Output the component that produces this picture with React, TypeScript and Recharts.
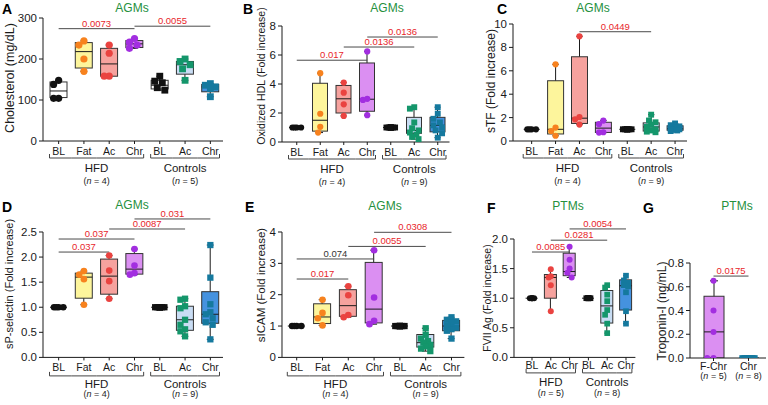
import React from "react";
import { ComposedChart, Bar, Scatter, XAxis, YAxis, ReferenceLine } from "recharts";

const FONT = '"Liberation Sans", Arial, Helvetica, sans-serif';
const RED = "#e8262b";
const GREEN = "#25903d";
const INK = "#1a1a1a";

// categories
const fullKeys = ["hBL", "hFat", "hAc", "hChr", "cBL", "cAc", "cChr"];
const fullLabels = ["BL", "Fat", "Ac", "Chr", "BL", "Ac", "Chr"];
const ptmKeys = ["hBL", "hAc", "hChr", "cBL", "cAc", "cChr"];
const ptmLabels = ["BL", "Ac", "Chr", "BL", "Ac", "Chr"];
const gKeys = ["fChr", "gChr"];
const gLabels = ["F-Chr", "Chr"];
const gN = [5, 8];

// groups: [name, n, number of categories]
const groupsA = [["HFD", 4, 4], ["Controls", 5, 3]];
const groupsAgm = [["HFD", 4, 4], ["Controls", 9, 3]];
const groupsF = [["HFD", 5, 3], ["Controls", 8, 3]];

const ones = (n: number) => Array(n).fill(1);
const zeros = (n: number) => Array(n).fill(0);

// A: cholesterol (mg/dL); boxes are [min, q1, median, q3, max]
const aPoints = [
  [148, 138, 104, 104],
  [244, 234, 200, 170],
  [234, 214, 158, 158],
  [250, 241, 234, 226],
  [158, 146, 142, 130, 124],
  [200, 194, 186, 176, 148],
  [140, 136, 132, 128, 108],
];
const aBoxes = [
  [104, 106, 122, 144, 148],
  [170, 178, 218, 240, 244],
  [158, 158, 188, 226, 234],
  [226, 228, 237, 245, 250],
  [124, 127, 136, 148, 158],
  [148, 163, 186, 194, 200],
  [108, 120, 132, 138, 140],
];
const aSig = [
  { from: "hBL", to: "hChr", y: 274, p: "0.0073" },
  { from: "hChr", to: "cChr", y: 280, p: "0.0055" },
];

// B: oxidized HDL
const bPoints = [
  ones(4),
  [4.75, 1.95, 1.05, 0.65],
  [4.1, 3.4, 2.6, 1.8],
  [6.25, 2.98, 2.9, 1.85],
  ones(9),
  [2.4, 2.3, 1.35, 0.95, 0.8, 0.65, 0.5, 0.35, 0.2],
  [2.4, 1.95, 1.6, 1.35, 1.15, 1.0, 0.8, 0.6, 0.3],
];
const bBoxes = [
  [1, 1, 1, 1, 1],
  [0.65, 0.75, 1.5, 4.05, 4.75],
  [1.8, 2.0, 2.98, 3.9, 4.1],
  [1.85, 2.12, 2.95, 5.45, 6.25],
  [1, 1, 1, 1, 1],
  [0.2, 0.6, 0.8, 1.7, 2.4],
  [0.3, 0.7, 1.15, 1.7, 2.4],
];
const bSig = [
  { from: "hBL", to: "hChr", y: 5.64, p: "0.017" },
  { from: "hAc", to: "cAc", y: 6.55, p: "0.0136" },
  { from: "hChr", to: "cChr", y: 7.24, p: "0.0136" },
];

// C: sTF
const cPoints = [
  ones(4),
  [6.55, 1.15, 0.85, 0.45],
  [8.95, 2.05, 1.85, 1.4],
  [1.75, 1.45, 0.75, 0.72],
  ones(9),
  [2.25, 1.75, 1.6, 1.4, 1.2, 1.0, 0.9, 0.8, 0.75],
  [1.5, 1.35, 1.25, 1.15, 1.05, 1.0, 0.95, 0.9, 0.85],
];
const cBoxes = [
  [1, 1, 1, 1, 1],
  [0.45, 0.6, 1.0, 5.15, 6.55],
  [1.4, 1.5, 1.95, 7.2, 8.95],
  [0.72, 0.73, 1.1, 1.6, 1.75],
  [1, 1, 1, 1, 1],
  [0.75, 0.85, 1.2, 1.55, 2.25],
  [0.85, 0.92, 1.05, 1.3, 1.5],
];
const cSig = [{ from: "hAc", to: "cAc", y: 9.34, p: "0.0449" }];

// D: sP-selectin
const dPoints = [
  ones(4),
  [1.72, 1.65, 1.56, 1.05],
  [2.03, 1.73, 1.52, 1.17],
  [2.16, 1.83, 1.68, 1.65],
  ones(9),
  [1.17, 1.15, 1.02, 0.98, 0.75, 0.65, 0.56, 0.52, 0.42],
  [2.24, 1.59, 1.06, 0.9, 0.86, 0.78, 0.7, 0.65, 0.36],
];
const dBoxes = [
  [1, 1, 1, 1, 1],
  [1.05, 1.18, 1.6, 1.68, 1.72],
  [1.17, 1.26, 1.62, 1.96, 2.03],
  [1.65, 1.66, 1.76, 2.07, 2.16],
  [1, 1, 1, 1, 1],
  [0.42, 0.54, 0.75, 1.02, 1.17],
  [0.36, 0.68, 0.86, 1.31, 2.24],
];
const dSig = [
  { from: "hBL", to: "hAc", y: 2.1, p: "0.037" },
  { from: "hBL", to: "hChr", y: 2.36, p: "0.037" },
  { from: "hAc", to: "cAc", y: 2.56, p: "0.0087" },
  { from: "hChr", to: "cChr", y: 2.76, p: "0.031" },
];

// E: sICAM
const ePoints = [
  ones(4),
  [1.84, 1.42, 1.25, 1.02],
  [2.27, 1.98, 1.35, 1.28],
  [3.42, 1.91, 1.17, 1.06],
  ones(9),
  [0.93, 0.72, 0.6, 0.52, 0.47, 0.4, 0.35, 0.28, 0.2],
  [1.28, 1.2, 1.15, 1.1, 1.0, 0.95, 0.9, 0.85, 0.6],
];
const eBoxes = [
  [1, 1, 1, 1, 1],
  [1.02, 1.08, 1.29, 1.71, 1.84],
  [1.28, 1.31, 1.65, 2.16, 2.27],
  [1.06, 1.1, 1.54, 3.03, 3.42],
  [1, 1, 1, 1, 1],
  [0.2, 0.33, 0.47, 0.73, 0.93],
  [0.6, 0.85, 1.0, 1.18, 1.28],
];
const eSig = [
  { from: "hBL", to: "hAc", y: 2.5, p: "0.017" },
  { from: "hBL", to: "hChr", y: 3.14, p: "0.074" },
  { from: "hAc", to: "cAc", y: 3.54, p: "0.0055" },
  { from: "hChr", to: "cChr", y: 3.99, p: "0.0308" },
];

// F: FVII Ag (PTMs)
const fPoints = [
  ones(5),
  [1.49, 1.37, 1.35, 1.22, 0.78],
  [1.87, 1.65, 1.5, 1.43, 1.35],
  ones(8),
  [1.22, 1.18, 1.06, 0.95, 0.8, 0.72, 0.57, 0.41],
  [1.38, 1.3, 1.26, 1.22, 1.2, 1.1, 0.78, 0.57],
];
const fBoxes = [
  [1, 1, 1, 1, 1],
  [0.78, 1.0, 1.35, 1.4, 1.49],
  [1.35, 1.38, 1.45, 1.76, 1.87],
  [1, 1, 1, 1, 1],
  [0.41, 0.58, 0.87, 1.13, 1.22],
  [0.57, 0.8, 1.21, 1.31, 1.38],
];
const fSig = [
  { from: "hBL", to: "hChr", y: 1.78, p: "0.0085" },
  { from: "hAc", to: "cAc", y: 1.98, p: "0.0281" },
  { from: "hChr", to: "cChr", y: 2.17, p: "0.0054" },
];

// G: troponin-I (PTMs)
const gPoints = [[0.65, 0.4, 0.22, 0, 0], zeros(8)];
const gBoxes = [
  [0, 0, 0.22, 0.52, 0.65],
  [0, 0, 0, 0, 0],
];
const gSig = [{ from: "fChr", to: "gChr", y: 0.69, p: "0.0175" }];

const catStyle: Record<string, { color: string; fill: string; square?: boolean }> = {
  hBL: { color: "#111", fill: "#fff" },
  hFat: { color: "#f7821e", fill: "#fdf59c" },
  hAc: { color: "#ea4340", fill: "#f6a29e" },
  hChr: { color: "#a22ee0", fill: "#db8ff2" },
  cBL: { color: "#111", fill: "#fff", square: true },
  cAc: { color: "#14966b", fill: "#c9ddf4", square: true },
  cChr: { color: "#15799e", fill: "#4592df", square: true },
  fChr: { color: "#a22ee0", fill: "#db8ff2" },
  gChr: { color: "#15799e", fill: "#4592df", square: true },
};

// deterministic dot spreading so overlapping points sit side by side
function swarm(vals: number[], ppu: number, r: number, maxOff: number) {
  const order = vals.map((_, i) => i).sort((a, b) => vals[b] - vals[a]);
  const step = r * 0.7;
  const cands = [0];
  for (let k = 1; k * step <= maxOff + 0.01; k++) cands.push(-k * step, k * step);
  const placed: [number, number][] = [];
  const out = vals.map(() => 0);
  for (const i of order) {
    const y = vals[i] * ppu;
    let best = 0;
    let bestD = -1;
    for (const c of cands) {
      let d = Infinity;
      for (const [px, py] of placed) d = Math.min(d, Math.hypot(c - px, y - py));
      if (d >= 2 * r * 0.95) {
        best = c;
        break;
      }
      if (d > bestD) {
        bestD = d;
        best = c;
      }
    }
    placed.push([best, y]);
    out[i] = best;
  }
  return out;
}

interface Layout {
  left: number;
  top: number;
  right: number;
  bottom: number;
  pad: number;
  max: number;
  ticks: number[];
  decimals: number;
  boxW: number;
  r: number;
  rows: { lab: number; br: number; grp: number; n: number };
}

const topRows = { lab: 9.5, br: 17, grp: 27, n: 39.5 };
const botRows = { lab: 10.5, br: 18.5, grp: 26.5, n: 37 };

const layA: Layout = { left: 43, top: 18, right: 223, bottom: 141, pad: 3, max: 300, ticks: [0, 100, 200, 300], decimals: 0, boxW: 17, r: 3.6, rows: topRows };
const layB: Layout = { left: 282, top: 25.7, right: 449.5, bottom: 141.7, pad: 3, max: 8, ticks: [0, 2, 4, 6, 8], decimals: 0, boxW: 15, r: 3.1, rows: topRows };
const layC: Layout = { left: 513, top: 24, right: 687, bottom: 141, pad: 6.7, max: 10, ticks: [0, 2, 4, 6, 8, 10], decimals: 0, boxW: 16, r: 3.1, rows: topRows };
const layD: Layout = { left: 43, top: 232.3, right: 223, bottom: 357.7, pad: 3, max: 2.5, ticks: [0, 0.5, 1, 1.5, 2, 2.5], decimals: 1, boxW: 17, r: 3.3, rows: botRows };
const layE: Layout = { left: 282, top: 232.3, right: 464.4, bottom: 357.7, pad: 1.8, max: 4, ticks: [0, 1, 2, 3, 4], decimals: 0, boxW: 17, r: 3.3, rows: botRows };
const layF: Layout = { left: 514, top: 239.3, right: 635.4, bottom: 357.7, pad: 8.6, max: 2, ticks: [0, 0.5, 1, 1.5, 2], decimals: 1, boxW: 12, r: 3, rows: { lab: 8.5, br: 15.5, grp: 24.5, n: 35.5 } };
const layG: Layout = { left: 690, top: 262.7, right: 766, bottom: 357.7, pad: 6, max: 0.8, ticks: [0, 0.2, 0.4, 0.6, 0.8], decimals: 1, boxW: 20, r: 3, rows: { lab: 8, br: 0, grp: 0, n: 18 } };

const YW = 40;
const MT = 30;
const MR = 4;
const XH = 46;

function BoxShape(props: any) {
  const { x, y, width, height, payload } = props;
  const box = payload && payload.box;
  if (!box || x == null || y == null) return null;
  const [mn, q1, md, q3, mx] = box;
  const hh = height || 0;
  const top = Math.min(y, y + hh);
  const h = Math.abs(hh);
  const pix = (v: number) => (mx === mn ? top : top + ((mx - v) / (mx - mn)) * h);
  const cx = x + width / 2;
  const cap = width * 0.2;
  const st = catStyle[payload.cat];
  return (
    <g>
      <line x1={cx} x2={cx} y1={pix(mx)} y2={pix(mn)} stroke={INK} strokeWidth={1} />
      <line x1={cx - cap} x2={cx + cap} y1={pix(mx)} y2={pix(mx)} stroke={INK} strokeWidth={1} />
      <line x1={cx - cap} x2={cx + cap} y1={pix(mn)} y2={pix(mn)} stroke={INK} strokeWidth={1} />
      <rect x={x} y={pix(q3)} width={width} height={Math.max(0, pix(q1) - pix(q3))} fill={st.fill} stroke="#333" strokeWidth={1} />
      <line x1={x} x2={x + width} y1={pix(md)} y2={pix(md)} stroke={INK} strokeWidth={1} />
    </g>
  );
}

function NLabel({ x, y, n, size }: { x: number; y: number; n: number; size: number }) {
  return (
    <text x={x} y={y} textAnchor="middle" dominantBaseline="central" fontSize={size} fill={INK}>
      (<tspan fontStyle="italic">n</tspan>{` = ${n})`}
    </text>
  );
}

interface PanelProps {
  keys: string[];
  labels: string[];
  groups?: (string | number)[][];
  nUnder?: number[];
  boxes: number[][];
  points: number[][];
  sig: { from: string; to: string; y: number; p: string }[];
  L: Layout;
}

const boxRange = (d: any) => (d && d.box ? [d.box[0], d.box[4]] : null);

function Panel({ keys, labels, groups, nUnder, boxes, points, sig, L }: PanelProps) {
  const plotW = L.right - L.left;
  const plotH = L.bottom - L.top;
  const band = (plotW - L.pad) / keys.length;
  const ppu = plotH / L.max;
  const data = keys.map((k, i) => ({ cat: k, box: boxes[i] }));
  const pts = keys.flatMap((k, i) => {
    const offs = swarm(points[i], ppu, L.r, L.boxW * 0.32);
    return points[i].map((v, j) => ({ cat: k, v, dx: offs[j] }));
  });

  const renderTick = (p: any) => {
    const { x, y, payload } = p;
    const i = keys.indexOf(payload && payload.value);
    if (i < 0) return <g />;
    const axisY = y - 3;
    const parts: React.ReactNode[] = [];
    parts.push(
      <text key="l" x={x} y={axisY + L.rows.lab} textAnchor="middle" dominantBaseline="central" fontSize={10.5} fill={INK}>
        {labels[i]}
      </text>
    );
    if (nUnder) {
      parts.push(<NLabel key="n" x={x} y={axisY + L.rows.n} n={nUnder[i]} size={9} />);
    }
    if (groups) {
      let start = 0;
      for (const g of groups) {
        const size = g[2] as number;
        if (i >= start && i < start + size) {
          const j = i - start;
          const by = axisY + L.rows.br;
          const x1 = x - band / 2 + (j === 0 ? 3.5 : 0);
          const x2 = x + band / 2 - (j === size - 1 ? 3.5 : 0);
          parts.push(<line key="b" x1={x1} x2={x2} y1={by} y2={by} stroke="#444" strokeWidth={1} />);
          if (j === 0) parts.push(<line key="c0" x1={x1} x2={x1} y1={by} y2={by - 4} stroke="#444" strokeWidth={1} />);
          if (j === size - 1) parts.push(<line key="c1" x1={x2} x2={x2} y1={by} y2={by - 4} stroke="#444" strokeWidth={1} />);
          const mid = size % 2 === 1 ? (size - 1) / 2 : size / 2 - 1;
          if (j === mid) {
            const gx = size % 2 === 1 ? x : x + band / 2;
            parts.push(
              <text key="g" x={gx} y={axisY + L.rows.grp} textAnchor="middle" dominantBaseline="central" fontSize={11.5} fill={INK}>
                {g[0]}
              </text>
            );
            parts.push(<NLabel key="gn" x={gx} y={axisY + L.rows.n} n={g[1] as number} size={9} />);
          }
        }
        start += size;
      }
    }
    return <g>{parts}</g>;
  };

  const Dot = (p: any) => {
    const { cx, cy, payload } = p;
    if (cx == null || cy == null || !payload || !catStyle[payload.cat]) return <g />;
    const st = catStyle[payload.cat];
    const px = cx + (payload.dx || 0);
    if (st.square) {
      const s = L.r * 1.9;
      return <rect x={px - s / 2} y={cy - s / 2} width={s} height={s} fill={st.color} />;
    }
    return <circle cx={px} cy={cy} r={L.r} fill={st.color} />;
  };

  return (
    <div style={{ position: "absolute", left: L.left - YW, top: L.top - MT }}>
      <ComposedChart
        width={plotW + YW + MR}
        height={plotH + MT + XH}
        data={data}
        margin={{ top: MT, right: MR, bottom: 0, left: 0 }}
      >
        <XAxis
          dataKey="cat"
          type="category"
          allowDuplicatedCategory={false}
          padding={{ left: L.pad, right: 0 }}
          height={XH}
          interval={0}
          tickSize={3}
          tickMargin={0}
          axisLine={{ stroke: INK }}
          tickLine={{ stroke: INK }}
          tick={renderTick}
        />
        <YAxis
          type="number"
          domain={[0, L.max]}
          ticks={L.ticks}
          interval={0}
          width={YW}
          tickSize={4}
          tickMargin={2}
          allowDataOverflow
          axisLine={{ stroke: INK }}
          tickLine={{ stroke: INK }}
          tick={{ fontSize: 11.5, fill: INK }}
          tickFormatter={(v: number) => Number(v).toFixed(L.decimals)}
        />
        <Bar
          dataKey={boxRange}
          barSize={L.boxW}
          shape={(p: any) => <BoxShape {...p} />}
          isAnimationActive={false}
        />
        {sig.map((s, k) => (
          <ReferenceLine
            key={k}
            segment={[
              { x: s.from, y: s.y },
              { x: s.to, y: s.y },
            ]}
            stroke="#4a4a4a"
            strokeWidth={1}
            ifOverflow="visible"
            label={{
              value: s.p,
              position: "top",
              offset: 2,
              fontSize: 9.5,
              fill: parseFloat(s.p) < 0.05 ? RED : "#333",
            }}
          />
        ))}
        <Scatter data={pts} dataKey="v" shape={Dot} isAnimationActive={false} />
      </ComposedChart>
    </div>
  );
}

const panelLetters = [
  ["A", 2, 14],
  ["B", 243, 14],
  ["C", 497, 14],
  ["D", 2, 212],
  ["E", 245, 212],
  ["F", 487, 213],
  ["G", 643, 213],
];
const panelTitles = [
  ["AGMs", 132, 12],
  ["AGMs", 387, 12],
  ["AGMs", 593, 12],
  ["AGMs", 132, 209],
  ["AGMs", 385, 210],
  ["PTMs", 568, 210],
  ["PTMs", 737, 210],
];
const axisTitles = [
  ["Cholesterol (mg/dL)", 10, 78, 12.5],
  ["Oxidized HDL (Fold increase)", 261, 76, 10.5],
  ["sTF (Fold increase)", 491, 81, 12],
  ["sP-selectin (Fold increase)", 9, 284, 11],
  ["sICAM (Fold increase)", 261, 285, 11.5],
  ["FVII Ag (Fold increase)", 487, 298, 10.5],
  ["Troponin-I (ng/mL)", 662, 311, 12],
];

export default function App() {
  return (
    <div
      style={{
        position: "absolute",
        left: 0,
        top: 0,
        width: 768,
        height: 405,
        background: "#fff",
        overflow: "hidden",
        fontFamily: FONT,
      }}
    >
      <Panel keys={fullKeys} labels={fullLabels} groups={groupsA} boxes={aBoxes} points={aPoints} sig={aSig} L={layA} />
      <Panel keys={fullKeys} labels={fullLabels} groups={groupsAgm} boxes={bBoxes} points={bPoints} sig={bSig} L={layB} />
      <Panel keys={fullKeys} labels={fullLabels} groups={groupsAgm} boxes={cBoxes} points={cPoints} sig={cSig} L={layC} />
      <Panel keys={fullKeys} labels={fullLabels} groups={groupsAgm} boxes={dBoxes} points={dPoints} sig={dSig} L={layD} />
      <Panel keys={fullKeys} labels={fullLabels} groups={groupsAgm} boxes={eBoxes} points={ePoints} sig={eSig} L={layE} />
      <Panel keys={ptmKeys} labels={ptmLabels} groups={groupsF} boxes={fBoxes} points={fPoints} sig={fSig} L={layF} />
      <Panel keys={gKeys} labels={gLabels} nUnder={gN} boxes={gBoxes} points={gPoints} sig={gSig} L={layG} />
      <svg
        width={768}
        height={405}
        style={{ position: "absolute", left: 0, top: 0, pointerEvents: "none" }}
      >
        {panelLetters.map(([t, x, y]) => (
          <text key={t as string} x={x as number} y={y as number} fontSize={14} fontWeight={900} fill="#000">
            {t}
          </text>
        ))}
        {panelTitles.map(([t, x, y], k) => (
          <text key={k} x={x as number} y={y as number} textAnchor="middle" fontSize={12} fill={GREEN}>
            {t}
          </text>
        ))}
        {axisTitles.map(([t, x, y, s]) => (
          <text
            key={t as string}
            x={x as number}
            y={y as number}
            textAnchor="middle"
            dominantBaseline="central"
            fontSize={s as number}
            fill={INK}
            transform={`rotate(-90 ${x} ${y})`}
          >
            {t}
          </text>
        ))}
      </svg>
    </div>
  );
}
